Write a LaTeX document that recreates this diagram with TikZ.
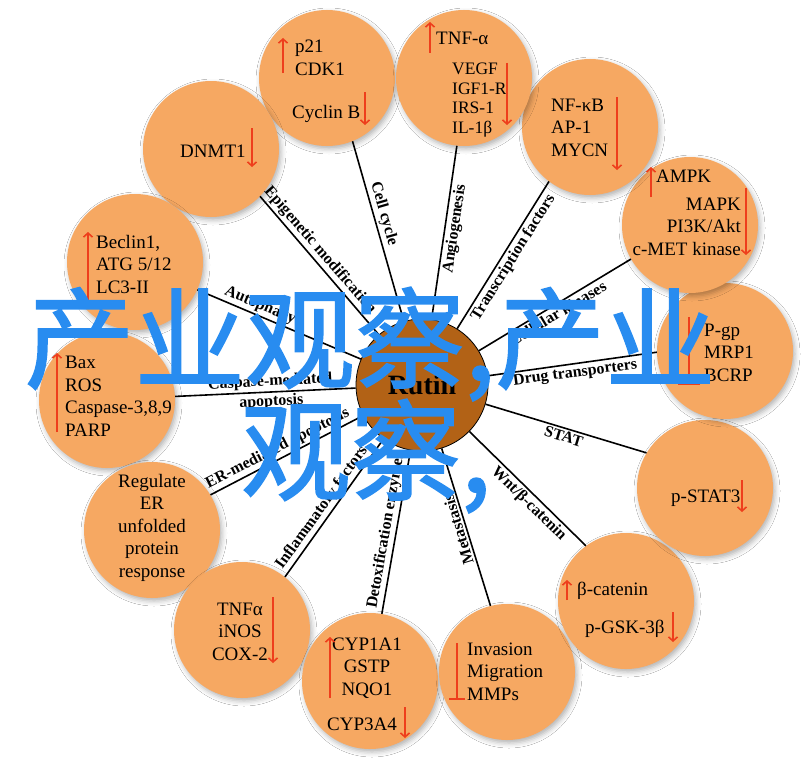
\documentclass[tikz,border=0pt]{standalone}
\usepackage{fontspec}
\setmainfont{Liberation Serif}
\newfontfamily\cjk{Noto Sans CJK SC}[FakeBold=1.5]
\usepackage{tikz}
\usetikzlibrary{arrows.meta,shadows.blur}
\definecolor{peach}{RGB}{246,168,98}
\definecolor{bark}{RGB}{178,98,22}
\definecolor{flame}{RGB}{238,62,28}
\definecolor{stampblue}{RGB}{40,140,240}
\tikzset{
       target/.style = { circle, minimum size=136pt, inner sep=0pt, fill=peach,
                         blur shadow={shadow xshift=2pt, shadow yshift=-3pt,
                                      shadow blur radius=5pt, shadow opacity=30} },
          hub/.style = { circle, minimum size=132pt, inner sep=0pt, fill=bark,
                         draw=black, line width=0.8pt,
                         font=\bfseries\fontsize{28}{30}\selectfont },
         link/.style = { black, line width=1.6pt },
      pathway/.style = { black, inner sep=2pt, font=\bfseries\fontsize{16}{17}\selectfont },
        genes/.style = { inner sep=0pt, anchor=base west, align=left,
                         font=\fontsize{19}{22.5}\selectfont },
   smallgenes/.style = { genes, font=\fontsize{17.5}{19.5}\selectfont },
         rise/.style = { draw=flame, line width=1.6pt, -{Straight Barb[length=4pt,width=9pt]} },
        block/.style = { draw=flame, line width=1.6pt, -{Bar[width=#1]} },
    watermark/.style = { stampblue, inner sep=0pt, anchor=base, font=\cjk\fontsize{110}{112}\selectfont }
}

\begin{document}
\begin{tikzpicture}[x=1pt, y=-1pt]
  \path[fill=white] (0,0) rectangle (808,760);

  % circles
  \node (cycB) at(327,78)  [target] {};
  \node (dnmt) at(211,149) [target] {};
  \node (becl) at(135,262) [target] {};
  \node (bax)  at(107,400) [target] {};
  \node (ergo) at(152,530) [target] {};
  \node (tnfa) at(242,630) [target] {};
  \node (cyp)  at(370,681) [target] {};
  \node (inva) at(507,672) [target] {};
  \node (bcat) at(626,601) [target] {};
  \node (stat) at(705,488) [target] {};
  \node (pgp)  at(725,351) [target] {};
  \node (ampk) at(690,225) [target] {};
  \node (nfkb) at(590,127) [target] {};
  \node (tnf)  at(464,78)  [target] {};

  \node (rutin) at(422,385) [hub] {Rutin};

  % connectors
  \draw[link] (rutin) -- node [pathway, rotate=-74, above, pos=.58] {Cell cycle} (cycB.292);
  \draw[link] (rutin) -- node [pathway, rotate=-49, above, pos=.56] {Epigenetic modification} (dnmt.316);
  \draw[link] (rutin) -- node [pathway, rotate=-23, above, pos=.64] {Autophagy} (becl.336);
  \draw[link] (rutin) -- node [pathway, rotate=3, above, pos=.47] {Caspase-mediated}
                         node [pathway, rotate=3, below, pos=.47] {apoptosis} (bax.3);
  \draw[link] (rutin) -- node [pathway, rotate=27, above, pos=.53] {ER-mediated apoptosis} (ergo.31);
  \draw[link] (rutin) -- node [pathway, rotate=54.5, above, pos=.54] {Inflammatory factors} (tnfa.51);
  \draw[link] (rutin) -- node [pathway, rotate=80, above, pos=.5] {Detoxification enzymes} (cyp.80);
  \draw[link] (rutin) -- node [pathway, rotate=107, above, pos=.5] {Metastasis} (inva.104);
  \draw[link] (rutin) -- node [pathway, rotate=-44.5, below, pos=.57] {Wnt/β-catenin} (bcat.126);
  \draw[link] (rutin) -- node [pathway, rotate=-17, below, pos=.5] {STAT} (stat.149);
  \draw[link] (rutin) -- node [pathway, rotate=7.7, below, pos=.51] {Drug transporters} (pgp.181);
  \draw[link] (rutin) -- node [pathway, rotate=31, below, pos=.49] {Cellular kinases} (ampk.210);
  \draw[link] (rutin) -- node [pathway, rotate=58, below, pos=.52] {Transcription factors} (nfkb.233);
  \draw[link] (rutin) -- node [pathway, rotate=81.6, below, pos=.53] {Angiogenesis} (tnf.264);

  % circle texts (anchored at the baseline of the last line)
  \node (cycBa) at(295,75)  [genes] {p21\\CDK1};
  \node (cycBb) at(292,118) [genes] {Cyclin B};
  \node (dnmtA) at(180,157) [genes] {DNMT1};
  \node (beclA) at(96,293)  [genes] {Beclin1,\\ATG 5/12\\LC3-II};
  \node (baxA)  at(65,436)  [genes] {Bax\\ROS\\Caspase-3,8,9\\PARP};
  \node (ergoA) at(152,577) [genes, anchor=base, align=center] {Regulate\\ER\\unfolded\\protein\\response};
  \node (tnfaA) at(240,660) [genes, anchor=base, align=center] {TNFα\\iNOS\\COX-2};
  \node (cypA)  at(367,695) [genes, anchor=base, align=center] {CYP1A1\\GSTP\\NQO1};
  \node (cypB)  at(327,730) [genes] {CYP3A4};
  \node (invaA) at(467,700) [genes] {Invasion\\Migration\\MMPs};
  \node (bcatA) at(577,595) [genes] {β-catenin};
  \node (bcatB) at(585,633) [genes] {p-GSK-3β};
  \node (statA) at(671,502) [genes] {p-STAT3};
  \node (pgpA)  at(704,381) [genes] {P-gp\\MRP1\\BCRP};
  \node (ampkA) at(656,182) [genes] {AMPK};
  \node (ampkB) at(741,255) [genes, anchor=base east, align=right] {MAPK\\PI3K/Akt\\c-MET kinase};
  \node (nfkbA) at(551,156) [genes] {NF-κB\\AP-1\\MYCN};
  \node (tnfA)  at(436,45)  [genes] {TNF-α};
  \node (tnfB)  at(452,133) [smallgenes] {VEGF\\IGF1-R\\IRS-1\\IL-1β};

  % up / down arrows
  \draw[rise] (283,73) -- (283,38);
  \draw[rise] (365,92) -- (365,125);
  \draw[rise] (252,128) -- (252,167);
  \draw[rise] (88,300) -- (88,232);
  \draw[rise] (57,432) -- (57,353);
  \draw[rise] (273,597) -- (273,663);
  \draw[rise] (330,698) -- (330,637);
  \draw[rise] (405,707) -- (405,738);
  \draw[block=16pt] (457,643) -- (457,700);
  \draw[rise] (567,600) -- (567,580);
  \draw[rise] (673,612) -- (673,642);
  \draw[rise] (742,480) -- (742,512);
  \draw[block=22pt] (689,317) -- (689,385);
  \draw[rise] (651,197) -- (651,167);
  \draw[rise] (746,188) -- (746,255);
  \draw[rise] (617,97) -- (617,170);
  \draw[rise] (430,53) -- (430,22);
  \draw[rise] (507,63) -- (507,125);

  % watermark
  \node (markA) at(370,380) [watermark] {产业观察,产业};
  \node (markB) at(366,492) [watermark] {观察,};
\end{tikzpicture}
\end{document}
